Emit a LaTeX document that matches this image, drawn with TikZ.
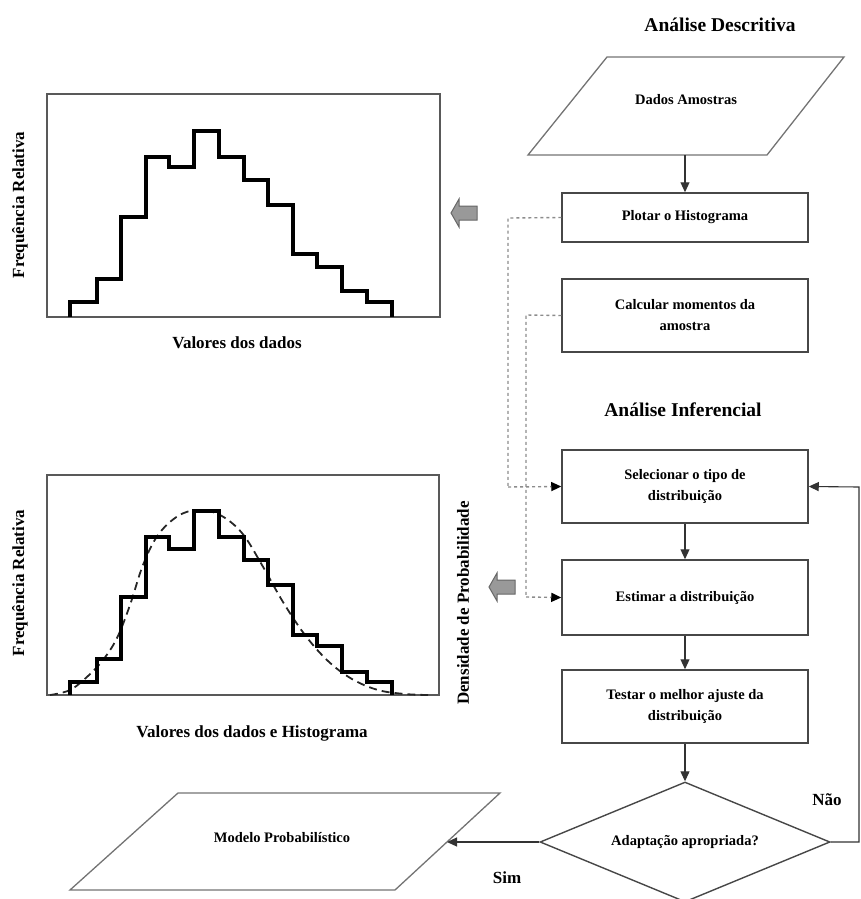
\documentclass[tikz,border=0pt]{standalone}
\usepackage{fontspec}
\setmainfont{Liberation Serif}
\usetikzlibrary{arrows.meta,shapes.geometric}
\begin{document}
\begin{tikzpicture}[x=1pt,y=-1pt,
  boxtxt/.style={font=\fontsize{14.5}{21}\selectfont\bfseries, align=center},
  procbox/.style={draw=black!72, line width=1.5pt, minimum width=246pt, inner sep=0pt, boxtxt},
  para/.style={draw=black!55, line width=1.3pt},
  title/.style={font=\fontsize{19.5}{22}\selectfont\bfseries},
  axlabel/.style={font=\fontsize{17}{20}\selectfont\bfseries},
  yn/.style={font=\fontsize{17}{20}\selectfont\bfseries},
  arr/.style={draw=black!80, line width=1.1pt, -{Triangle[length=10pt,width=9pt]}},
  dasharr/.style={draw=black!45, line width=1.4pt, dash pattern=on 3pt off 3pt, -{Triangle[length=10pt,width=9pt,color=black]}},
  dashline/.style={draw=black!45, line width=1.4pt, dash pattern=on 3pt off 3pt},
  histframe/.style={draw=black!65, line width=1.6pt},
  histline/.style={draw=black, line width=3.1pt, line join=miter},
  fitcurve/.style={draw=black!85, line width=1.8pt, dash pattern=on 8pt off 5pt},
  blockarr/.style={fill=black!40, draw=black!60, line width=1pt, line join=miter}
]
\useasboundingbox (0,0) rectangle (861,899);

% ---------- titles ----------
\node[title] (t1) at (720,25) {Análise Descritiva};
\node[title] (t2) at (683,410) {Análise Inferencial};

% ---------- Dados Amostras (parallelogram) ----------
\draw[para] (607,57) -- (844,57) -- (767,155) -- (528,155) -- cycle;
\node[boxtxt, minimum width=200pt, minimum height=98pt, inner sep=0pt] (dados) at (686,100) {Dados Amostras};

% ---------- process boxes ----------
\node[procbox, minimum height=49pt] (plotar) at (685,217.5) {Plotar o Histograma};
\node[procbox, minimum height=73pt] (calc) at (685,315.5) {Calcular momentos da\\amostra};
\node[procbox, minimum height=73pt] (sel) at (685,486.5) {Selecionar o tipo de\\distribuição};
\node[procbox, minimum height=75pt] (est) at (685,597.5) {Estimar a distribuição};
\node[procbox, minimum height=73pt] (test) at (685,706.5) {Testar o melhor ajuste da\\distribuição};

% ---------- decision ----------
\node[diamond, draw=black!72, line width=1.4pt, minimum width=290pt, minimum height=120pt, aspect=2.4, inner sep=0pt, boxtxt] (dec) at (685,842) {Adaptação apropriada?};

% ---------- Modelo Probabilistico ----------
\draw[para] (178,793) -- (500,793) -- (395,890) -- (70,890) -- cycle;
\node[boxtxt, minimum width=200pt, minimum height=97pt, inner sep=0pt] (modelo) at (282,838) {Modelo Probabilístico};
\coordinate (modR) at (447,842);

% ---------- flow connectors ----------
\draw[arr] (plotar.north |- 0,155) -- (plotar.north);
\draw[arr] (sel.south) -- (est.north);
\draw[arr] (est.south) -- (test.north);
\draw[arr] (test.south) -- (dec.north);
\draw[arr] (dec.west) -- (modR);
\coordinate (fb) at (859,487);
\draw[arr] (dec.east) -| (fb) -- (sel.east);
\node[yn] (nao) at (827,800) {Não};
\node[yn] (sim) at (507,878) {Sim};

% ---------- dashed connectors ----------
\coordinate (d1a) at (508,218);
\coordinate (d1b) at (508,487);
\coordinate (d2a) at (526,315);
\coordinate (d2b) at (526,597);
\draw[dashline] (plotar.west) -- (d1a) -- (d1b);
\draw[dasharr] (d1b) -- (sel.west);
\draw[dashline] (calc.west) -- (d2a) -- (d2b);
\draw[dasharr] (d2b) -- (est.west);

% ---------- gray block arrows ----------
\draw[blockarr] (451,213) -- (459,199) -- (459,206) -- (477,206) -- (477,220) -- (459,220) -- (459,227) -- cycle;
\draw[blockarr] (489,587) -- (497,573) -- (497,580) -- (515,580) -- (515,594) -- (497,594) -- (497,601) -- cycle;

% ---------- histogram 1 ----------
\draw[histframe] (47,94) rectangle (440,317);
\draw[histline] (70,317)--(70,302)--(97,302)--(97,279)--(121,279)--(121,217)--(146,217)--(146,157)--(169,157)--(169,167)--(194,167)--(194,131)--(219,131)--(219,157)--(244,157)--(244,180)--(268,180)--(268,205)--(293,205)--(293,254)--(317,254)--(317,267)--(342,267)--(342,291)--(367,291)--(367,302)--(392,302)--(392,317);
\node[axlabel, rotate=90] (y1) at (20,205) {Frequência Relativa};
\node[axlabel] (x1) at (237,343) {Valores dos dados};

% ---------- histogram 2 ----------
\draw[histframe] (47,475) rectangle (439,695);
\draw[fitcurve] plot[smooth, tension=0.6] coordinates {(50,695) (70,690) (88,676) (103,660) (117,638) (130,605) (143,565) (158,535) (178,516) (198,510) (220,515) (242,533) (262,565) (283,602) (305,635) (328,661) (352,679) (378,690) (405,694) (428,695)};
\draw[histline] (70,695)--(70,682)--(97,682)--(97,659)--(121,659)--(121,597)--(146,597)--(146,537)--(169,537)--(169,549)--(194,549)--(194,511)--(219,511)--(219,537)--(244,537)--(244,560)--(268,560)--(268,585)--(293,585)--(293,635)--(317,635)--(317,646)--(342,646)--(342,672)--(367,672)--(367,682)--(392,682)--(392,695);
\node[axlabel, rotate=90] (y2) at (20,583) {Frequência Relativa};
\node[axlabel, rotate=90] (y3) at (463,603) {Densidade de Probabilidade};
\node[axlabel] (x2) at (252,733) {Valores dos dados e Histograma};
\end{tikzpicture}
\end{document}
